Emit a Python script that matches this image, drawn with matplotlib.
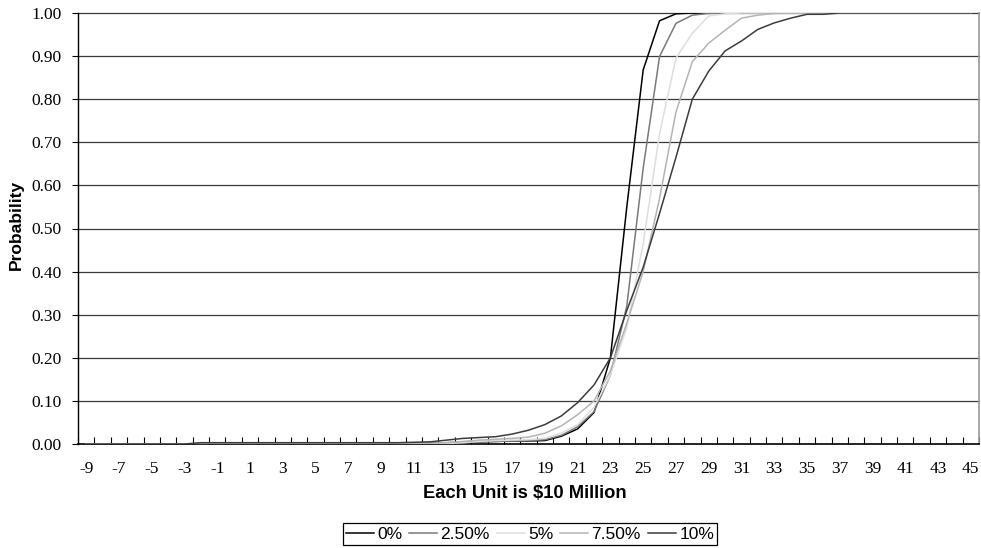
import matplotlib
matplotlib.use("Agg")
import matplotlib.pyplot as plt
import numpy as np

categories = list(range(-9, 46))
tick_labels = [str(v) for v in range(-9, 46, 2)]
series_names = ["0%", "2.50%", "5%", "7.50%", "10%"]

# values for categories -9 .. 45
s0 = ([0.0] * 7 + [0.001] * 13 +
      [0.001, 0.002, 0.003, 0.004, 0.005, 0.006, 0.007, 0.007, 0.008, 0.018,
       0.035, 0.073, 0.20, 0.55, 0.868, 0.982, 0.998] + [1.0] * 18)
s25 = ([0.0] * 7 + [0.001] * 13 +
       [0.001, 0.001, 0.002, 0.003, 0.005, 0.006, 0.007, 0.008, 0.010, 0.020,
        0.040, 0.075, 0.16, 0.32, 0.64, 0.899, 0.976, 0.995, 0.999] + [1.0] * 16)
s5 = ([0.0] * 7 + [0.001] * 13 +
      [0.001, 0.001, 0.001, 0.003, 0.006, 0.008, 0.009, 0.010, 0.013, 0.025,
       0.045, 0.085, 0.16, 0.27, 0.465, 0.72, 0.895, 0.953, 0.993, 0.998] + [1.0] * 15)
s75 = ([0.0] * 7 + [0.002] * 13 +
       [0.002, 0.002, 0.003, 0.006, 0.009, 0.011, 0.013, 0.016, 0.025, 0.042,
        0.068, 0.10, 0.17, 0.28, 0.40, 0.57, 0.77, 0.887, 0.93, 0.96, 0.988,
        0.995, 0.999] + [1.0] * 12)
s10 = ([0.0] * 7 + [0.003] * 13 +
       [0.004, 0.005, 0.009, 0.013, 0.015, 0.017, 0.023, 0.032, 0.045, 0.065,
        0.096, 0.137, 0.20, 0.31, 0.41, 0.535, 0.665, 0.80, 0.865, 0.912,
        0.935, 0.962, 0.977, 0.988, 0.997, 0.997] + [1.0] * 9)
series = [s0, s25, s5, s75, s10]
colors = ["#000000", "#7a7a7a", "#dedede", "#b4b4b4", "#3c3c3c"]

W, H = 981, 548
fig = plt.figure(figsize=(W / 100, H / 100), dpi=100)
ax = fig.add_axes([78 / W, 1 - 444 / H, (979 - 78) / W, (444 - 13) / H])

x = np.arange(len(categories))
for vals, c, name in zip(series, colors, series_names):
    ax.plot(x, vals, color=c, lw=1.1, label=name, zorder=3)

ax.set_xlim(-0.5, len(categories) - 0.5)
ax.set_ylim(0, 1.0)

# y axis
yt = np.round(np.arange(0, 1.0001, 0.1), 2)
ax.set_yticks(yt)
ax.set_yticklabels([f"{v:.2f}" for v in yt], family="Liberation Serif", fontsize=12.5)
ax.tick_params(axis="y", direction="out", length=4, width=0.8, pad=8)
for v in yt[1:]:
    ax.axhline(v, color="#3a3a3a", lw=0.9, zorder=1, clip_on=False)

# x axis
major_pos = [categories.index(int(t)) for t in tick_labels]
ax.set_xticks(major_pos)
ax.set_xticklabels(tick_labels, family="Liberation Serif", fontsize=12.5)
ax.tick_params(axis="x", which="major", length=0, pad=12)
ax.set_xticks(np.arange(-0.5, len(categories), 1.0), minor=True)
ax.tick_params(axis="x", which="minor", direction="in", length=5, width=0.8)

ax.spines["top"].set_visible(False)
ax.spines["right"].set_color("#9a9a9a")
ax.spines["right"].set_linewidth(1.2)
ax.spines["left"].set_color("black")
ax.spines["bottom"].set_color("black")
ax.spines["left"].set_linewidth(1.0)
ax.spines["bottom"].set_linewidth(1.2)

fig.text(16 / W, 1 - 225 / H, "Probability", rotation=90, ha="center", va="center",
         family="Liberation Sans", fontweight="bold", fontsize=12.5)
fig.text(525 / W, 1 - 493 / H, "Each Unit is $10 Million", ha="center", va="center",
         family="Liberation Sans", fontweight="bold", fontsize=13.2)

leg = fig.legend(loc="center", bbox_to_anchor=(530 / W, 1 - 534 / H), ncol=5,
                 frameon=True, fancybox=False, edgecolor="black", framealpha=1,
                 prop={"family": "Liberation Sans", "size": 12.5},
                 handlelength=1.6, handletextpad=0.2, columnspacing=0.4,
                 borderpad=0.2, borderaxespad=0)
leg.get_frame().set_linewidth(0.9)

fig.savefig("out.png", dpi=100)
